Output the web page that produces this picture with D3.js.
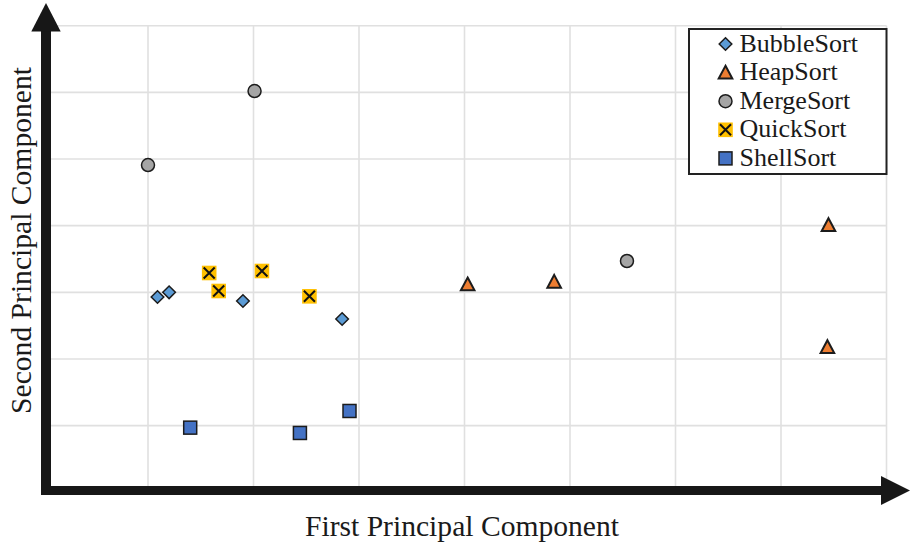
<!DOCTYPE html>
<html>
<head>
<meta charset="utf-8">
<script src="https://cdn.jsdelivr.net/npm/d3@7"></script>
<style>
  body { margin: 0; background: #fff; }
  text { font-family: "Liberation Serif", "Times New Roman", serif; fill: #1a1a1a; }
</style>
</head>
<body>
<div class="chart"></div>
<script>
// Configuration
var width = 912;
var height = 543;

// data (arbitrary PCA units)
var seriesNames = ["BubbleSort", "HeapSort", "MergeSort", "QuickSort", "ShellSort"];
var bubbleX = [1.09, 1.20, 1.90, 2.84];
var bubbleY = [2.93, 3.00, 2.87, 2.60];
var heapX = [4.03, 4.85, 7.45, 7.44];
var heapY = [3.12, 3.16, 4.01, 2.18];
var mergeX = [1.00, 2.01, 5.54];
var mergeY = [4.91, 6.02, 3.47];
var quickX = [1.58, 1.67, 2.08, 2.53];
var quickY = [3.29, 3.02, 3.32, 2.94];
var shellX = [1.40, 2.44, 2.91];
var shellY = [0.97, 0.89, 1.22];
var xTicks = [1, 2, 3, 4, 5, 6, 7, 8];
var yTicks = [1, 2, 3, 4, 5, 6, 7];

var colors = {
  BubbleSort: "#5b9bd5",
  HeapSort: "#ed7d31",
  MergeSort: "#a5a5a5",
  QuickSort: "#ffc000",
  ShellSort: "#4472c4"
};

var seriesData = [
  { name: "BubbleSort", xs: bubbleX, ys: bubbleY },
  { name: "HeapSort", xs: heapX, ys: heapY },
  { name: "MergeSort", xs: mergeX, ys: mergeY },
  { name: "QuickSort", xs: quickX, ys: quickY },
  { name: "ShellSort", xs: shellX, ys: shellY }
];

var points = [];
seriesData.forEach(function(s) {
  s.xs.forEach(function(v, i) {
    points.push({ name: s.name, x: v, y: s.ys[i] });
  });
});

// layout
var axisX = 46;     // vertical axis centre
var axisY = 490.5;  // horizontal axis centre
var axisW = 10;
var ink = "#171717";

var x = d3.scaleLinear().domain([0, 8]).range([42.5, 886.5]);
var y = d3.scaleLinear().domain([0, 7]).range([492.3, 25.7]);

var svg = d3.select(".chart").append("svg")
    .attr("width", width)
    .attr("height", height);

// grid
svg.append("g").selectAll("line")
    .data(xTicks)
    .enter().append("line")
    .attr("x1", function(d) { return x(d); })
    .attr("x2", function(d) { return x(d); })
    .attr("y1", y(7))
    .attr("y2", axisY)
    .attr("stroke", "#e0e0e0")
    .attr("stroke-width", 1.6);

svg.append("g").selectAll("line")
    .data(yTicks)
    .enter().append("line")
    .attr("x1", axisX)
    .attr("x2", x(8))
    .attr("y1", function(d) { return y(d); })
    .attr("y2", function(d) { return y(d); })
    .attr("stroke", "#e0e0e0")
    .attr("stroke-width", 1.6);

// axes with big arrow heads
svg.append("rect")
    .attr("x", axisX - axisW / 2).attr("y", 30)
    .attr("width", axisW).attr("height", axisY + 4.5 - 30)
    .attr("fill", ink);
svg.append("path")
    .attr("d", "M" + (axisX - 14.7) + ",31.6L" + axisX + ",3L" + (axisX + 14.7) + ",31.6Z")
    .attr("fill", ink);
svg.append("rect")
    .attr("x", axisX - axisW / 2).attr("y", axisY - 4.5)
    .attr("width", 882 - axisX + axisW / 2).attr("height", 9)
    .attr("fill", ink);
svg.append("path")
    .attr("d", "M881," + (axisY - 14.5) + "L910," + axisY + "L881," + (axisY + 14.5) + "Z")
    .attr("fill", ink);

// axis titles
svg.append("text")
    .attr("x", 462).attr("y", 536)
    .attr("text-anchor", "middle")
    .style("font-size", "29.6px")
    .text("First Principal Component");

svg.append("text")
    .attr("transform", "translate(31,240.5) rotate(-90)")
    .attr("text-anchor", "middle")
    .style("font-size", "29.6px")
    .text("Second Principal Component");

// marker drawing
function drawMarker(g, name) {
  var stroke = "#1c1c1c";
  if (name === "BubbleSort") {
    g.append("path").attr("d", "M0,-6.3L6.3,0L0,6.3L-6.3,0Z")
      .attr("fill", colors[name]).attr("stroke", stroke).attr("stroke-width", 1.5);
  } else if (name === "HeapSort") {
    g.append("path").attr("d", "M0,-6.8L6.8,6L-6.8,6Z")
      .attr("fill", colors[name]).attr("stroke", stroke).attr("stroke-width", 2)
      .attr("stroke-linejoin", "miter");
  } else if (name === "MergeSort") {
    g.append("circle").attr("r", 6.5)
      .attr("fill", colors[name]).attr("stroke", stroke).attr("stroke-width", 1.5);
  } else if (name === "QuickSort") {
    g.append("rect").attr("x", -7.3).attr("y", -7.3).attr("width", 14.6).attr("height", 14.6)
      .attr("fill", colors[name]);
    g.append("path").attr("d", "M-5.5,-5.5L5.5,5.5M5.5,-5.5L-5.5,5.5")
      .attr("stroke", "#111").attr("stroke-width", 2);
  } else {
    g.append("rect").attr("x", -6.5).attr("y", -6.5).attr("width", 13).attr("height", 13)
      .attr("fill", colors[name]).attr("stroke", stroke).attr("stroke-width", 1.5);
  }
}

// points
svg.append("g").selectAll("g")
    .data(points)
    .enter().append("g")
    .attr("transform", function(d) { return "translate(" + x(d.x) + "," + y(d.y) + ")"; })
    .each(function(d) { drawMarker(d3.select(this), d.name); });

// legend
var legend = svg.append("g");
legend.append("rect")
    .attr("x", 689).attr("y", 29)
    .attr("width", 197.5).attr("height", 145)
    .attr("fill", "#fff")
    .attr("stroke", "#222")
    .attr("stroke-width", 2);

var rows = legend.selectAll("g.row")
    .data(seriesNames)
    .enter().append("g")
    .attr("class", "row")
    .attr("transform", function(d, i) { return "translate(725.5," + (44 + i * 28.6) + ")"; });

rows.each(function(d) { drawMarker(d3.select(this), d); });
rows.append("text")
    .attr("x", 14).attr("y", 7.5)
    .style("font-size", "26px")
    .text(function(d) { return d; });
</script>
</body>
</html>
